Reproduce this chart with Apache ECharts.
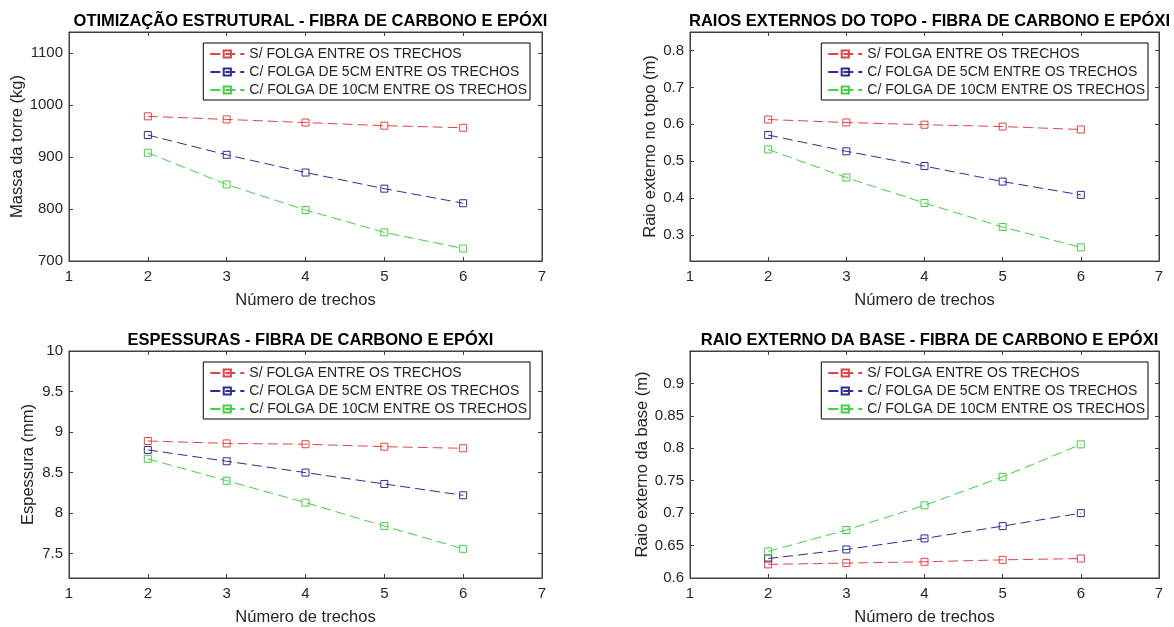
<!DOCTYPE html>
<html>
<head>
<meta charset="utf-8">
<script src="https://cdn.jsdelivr.net/npm/echarts@6/dist/echarts.min.js"></script>
<style>
    html, body { margin: 0; padding: 0; background: #fff; }
    #chart { width: 1174px; height: 627px; }
</style>
</head>
<body>
<div id="chart"></div>
<script>
// número de trechos
var trechos = [2, 3, 4, 5, 6];
var nomes = ['S/ FOLGA ENTRE OS TRECHOS', 'C/ FOLGA DE 5CM ENTRE OS TRECHOS', 'C/ FOLGA DE 10CM ENTRE OS TRECHOS'];

// massa da torre (kg)
var massa_s = [978, 972, 966, 960, 956];
var massa_c5 = [942, 904, 870, 839, 811];
var massa_c10 = [908, 847, 798, 755, 724];

// raio externo no topo (m)
var topo_s = [0.613, 0.605, 0.599, 0.594, 0.586];
var topo_c5 = [0.571, 0.527, 0.487, 0.445, 0.409];
var topo_c10 = [0.532, 0.456, 0.387, 0.322, 0.267];

// espessura (mm)
var esp_s = [8.89, 8.86, 8.85, 8.82, 8.80];
var esp_c5 = [8.78, 8.64, 8.50, 8.36, 8.22];
var esp_c10 = [8.67, 8.40, 8.13, 7.84, 7.56];

// raio externo da base (m)
var base_s = [0.621, 0.623, 0.625, 0.628, 0.630];
var base_c5 = [0.630, 0.644, 0.661, 0.680, 0.700];
var base_c10 = [0.641, 0.674, 0.712, 0.756, 0.806];

// ticks do eixo y
var ticks_massa = [700, 800, 900, 1000, 1100];
var ticks_topo = [0.3, 0.4, 0.5, 0.6, 0.7, 0.8];
var ticks_esp = [7.5, 8, 8.5, 9, 9.5, 10];
var ticks_base = [0.6, 0.65, 0.7, 0.75, 0.8, 0.85, 0.9];

var cores = ['#e04444', '#2e2e96', '#45cf45'];
var fonte = 'Liberation Sans, Arial, Helvetica, sans-serif';
var cor_eixo = '#404040';
var cor_texto = '#262626';

// posição de cada subplot
var paineis = [
    {left: 69, top: 32, width: 473, height: 229, titulo: 'OTIMIZAÇÃO ESTRUTURAL - FIBRA DE CARBONO E EPÓXI',
        ynome: 'Massa da torre (kg)', ygap: 43, ymin: 700, ymax: 1140, ticks: ticks_massa,
        dados: [massa_s, massa_c5, massa_c10], legRight: 644, legTop: 43},
    {left: 690, top: 32, width: 469, height: 229, titulo: 'RAIOS EXTERNOS DO TOPO - FIBRA DE CARBONO E EPÓXI',
        ynome: 'Raio externo no topo (m)', ygap: 31, ymin: 0.23, ymax: 0.85, ticks: ticks_topo,
        dados: [topo_s, topo_c5, topo_c10], legRight: 26, legTop: 43},
    {left: 69, top: 351, width: 473, height: 228, titulo: 'ESPESSURAS - FIBRA DE CARBONO E EPÓXI',
        ynome: 'Espessura (mm)', ygap: 32, ymin: 7.2, ymax: 10, ticks: ticks_esp,
        dados: [esp_s, esp_c5, esp_c10], legRight: 644, legTop: 362},
    {left: 690, top: 351, width: 469, height: 228, titulo: 'RAIO EXTERNO DA BASE - FIBRA DE CARBONO E EPÓXI',
        ynome: 'Raio externo da base (m)', ygap: 32, ymin: 0.6, ymax: 0.95, ticks: ticks_base,
        dados: [base_s, base_c5, base_c10], legRight: 26, legTop: 362}
];


function montar_pares(xs, ys) {
    /*junta x e y em pares*/
    var ret = [];
    for (var i = 0; i < xs.length; i++) {
        ret.push([xs[i], ys[i]]);
    }
    return ret;
}


function render_chart() {
    var myChart = echarts.init(document.getElementById('chart'), null, {renderer: 'canvas'});

    var grids = [], titles = [], xAxes = [], yAxes = [], series = [], legends = [];

    for (var p = 0; p < paineis.length; p++) {
        var pn = paineis[p];

        grids.push({left: pn.left, top: pn.top, width: pn.width, height: pn.height,
            show: true, borderColor: cor_eixo, borderWidth: 1, backgroundColor: '#fff'});

        titles.push({
            text: pn.titulo,
            left: pn.left + pn.width / 2,
            top: pn.top - 24,
            textAlign: 'center',
            textStyle: {fontFamily: fonte, fontSize: 16.5, fontWeight: 'bold', color: '#000'}
        });

        // eixo x de baixo e de cima
        xAxes.push({
            type: 'value', gridIndex: p, min: 1, max: 7, interval: 1,
            name: 'Número de trechos', nameLocation: 'middle', nameGap: 31,
            nameTextStyle: {fontFamily: fonte, fontSize: 16.5, color: cor_texto},
            axisLine: {show: true, lineStyle: {color: cor_eixo}},
            axisTick: {show: true, inside: true, length: 4, lineStyle: {color: cor_eixo}},
            axisLabel: {fontFamily: fonte, fontSize: 15, color: cor_texto, margin: 8},
            splitLine: {show: false}
        });
        xAxes.push({
            type: 'value', gridIndex: p, min: 1, max: 7, interval: 1, position: 'top',
            axisLine: {show: true, lineStyle: {color: cor_eixo}},
            axisTick: {show: true, inside: true, length: 4, lineStyle: {color: cor_eixo}},
            axisLabel: {show: false},
            splitLine: {show: false}
        });

        // eixo y da esquerda e da direita
        yAxes.push({
            type: 'value', gridIndex: p, min: pn.ymin, max: pn.ymax,
            name: pn.ynome, nameLocation: 'middle', nameGap: pn.ygap,
            nameTextStyle: {fontFamily: fonte, fontSize: 16.5, color: cor_texto},
            axisLine: {show: true, lineStyle: {color: cor_eixo}},
            axisTick: {show: true, inside: true, length: 4, customValues: pn.ticks, lineStyle: {color: cor_eixo}},
            axisLabel: {fontFamily: fonte, fontSize: 15, color: cor_texto, margin: 6, customValues: pn.ticks,
                formatter: function (v) { return String(v); }},
            splitLine: {show: false}
        });
        yAxes.push({
            type: 'value', gridIndex: p, min: pn.ymin, max: pn.ymax, position: 'right',
            axisLine: {show: true, lineStyle: {color: cor_eixo}},
            axisTick: {show: true, inside: true, length: 4, customValues: pn.ticks, lineStyle: {color: cor_eixo}},
            axisLabel: {show: false},
            splitLine: {show: false}
        });

        for (var s = 0; s < 3; s++) {
            series.push({
                name: nomes[s],
                type: 'line',
                xAxisIndex: p * 2,
                yAxisIndex: p * 2,
                data: montar_pares(trechos, pn.dados[s]),
                symbol: 'rect',
                symbolSize: 7,
                itemStyle: {color: 'rgba(255,255,255,0)', borderColor: cores[s], borderWidth: 1},
                lineStyle: {color: cores[s], width: 1, type: [10, 5]},
                animation: false,
                z: 3
            });
        }

        legends.push({
            data: nomes,
            orient: 'vertical',
            right: pn.legRight,
            top: pn.legTop,
            padding: [4, 3, 3, 6],
            itemGap: 4,
            itemWidth: 34,
            itemHeight: 9,
            backgroundColor: '#fff',
            borderColor: '#000',
            borderWidth: 1,
            selectedMode: false,
            textStyle: {fontFamily: fonte, fontSize: 14, color: cor_texto, lineHeight: 14}
        });
    }

    var option = {
        backgroundColor: '#fff',
        animation: false,
        title: titles,
        grid: grids,
        xAxis: xAxes,
        yAxis: yAxes,
        legend: legends,
        series: series
    };
    myChart.setOption(option);
}

window.onload = function () {
    render_chart();
}
</script>
</body>
</html>
